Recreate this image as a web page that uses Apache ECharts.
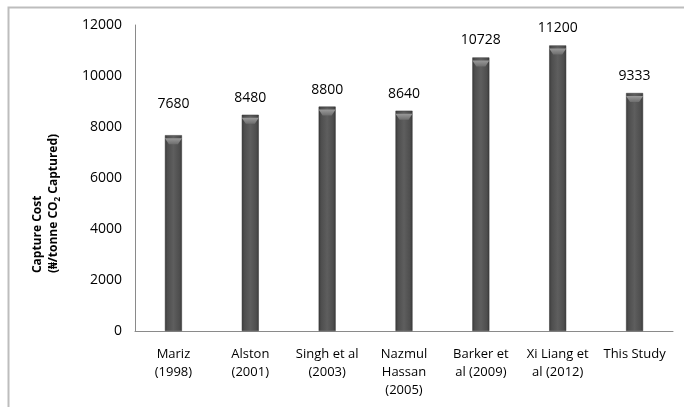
<!DOCTYPE html>
<html>
<head>
<meta charset="utf-8">
<script src="https://cdn.jsdelivr.net/npm/echarts@6/dist/echarts.min.js"></script>
<style>
html,body{margin:0;padding:0;background:#fff;}
#chart{width:684px;height:407px;}
</style>
</head>
<body>
<div id="chart"></div>
<script>
// Capture cost per study
const categories = ['Mariz\n(1998)', 'Alston\n(2001)', 'Singh et al\n(2003)', 'Nazmul\nHassan\n(2005)', 'Barker et\nal (2009)', 'Xi Liang et\nal (2012)', 'This Study'];
const costs = [7680, 8480, 8800, 8640, 10728, 11200, 9333];
const yTicks = [0, 2000, 4000, 6000, 8000, 10000, 12000];

const FONT = '"Open Sans", "Noto Sans", sans-serif';

const chart = echarts.init(document.getElementById('chart'), null, {renderer: 'canvas'});

const barFill = new echarts.graphic.LinearGradient(0, 0, 1, 0, [
  {offset: 0, color: '#3a3a3a'},
  {offset: 0.15, color: '#4e4e4e'},
  {offset: 0.5, color: '#5e5e5e'},
  {offset: 0.85, color: '#4e4e4e'},
  {offset: 1, color: '#3a3a3a'}
]);

const capFill = new echarts.graphic.LinearGradient(0, 0, 0, 1, [
  {offset: 0, color: '#9a9a9a'},
  {offset: 1, color: '#6e6e6e'}
]);

// the first label sits a little higher above its bar
const labelGap = [24, 10, 10, 10, 10, 10, 10];

chart.setOption({
  animation: false,
  graphic: [
    {
      type: 'rect',
      shape: {x: 8.5, y: 7.5, width: 700, height: 420},
      style: {fill: 'none', stroke: '#bdbdbd', lineWidth: 2},
      silent: true
    },
    {
      type: 'text',
      left: 32,
      top: 'middle',
      rotation: Math.PI / 2,
      style: {
        text: '{t|Capture Cost}\n{t|(₦/tonne CO}{s|2}{t| Captured)}',
        align: 'center',
        rich: {
          t: {fontFamily: FONT, fontSize: 12, fontWeight: 'bold', fill: '#000', lineHeight: 16},
          s: {fontFamily: FONT, fontSize: 8, fontWeight: 'bold', fill: '#000', lineHeight: 16, padding: [7, 0, 0, 0]}
        }
      }
    }
  ],
  grid: {left: 135, right: 11, top: 25, bottom: 76},
  xAxis: {
    type: 'category',
    data: categories,
    axisLine: {show: true, lineStyle: {color: '#8a8a8a', width: 1}},
    axisTick: {show: false},
    axisLabel: {
      interval: 0,
      color: '#000',
      fontFamily: FONT,
      fontSize: 13,
      lineHeight: 18,
      margin: 14
    }
  },
  yAxis: {
    type: 'value',
    min: 0,
    max: 12000,
    interval: 2000,
    splitLine: {show: false},
    axisLine: {show: true, lineStyle: {color: '#8a8a8a', width: 1}},
    axisTick: {show: false},
    axisLabel: {
      color: '#000',
      fontFamily: FONT,
      fontSize: 14,
      margin: 13,
      formatter: v => yTicks.includes(v) ? String(v) : ''
    }
  },
  series: [
    {
      type: 'bar',
      data: costs.map((v, i) => ({value: v, label: {distance: labelGap[i]}})),
      barWidth: 17,
      itemStyle: {color: barFill, borderColor: '#333', borderWidth: 0.5},
      label: {
        show: true,
        position: 'top',
        color: '#000',
        fontFamily: FONT,
        fontSize: 14
      }
    },
    {
      // bevelled cap on each bar
      type: 'pictorialBar',
      data: costs,
      symbol: 'path://M0,0 L17,0 L13,6 L4,6 Z',
      symbolSize: [17, 6],
      symbolPosition: 'end',
      symbolOffset: [0, '50%'],
      itemStyle: {color: capFill},
      silent: true,
      z: 3
    }
  ]
});
</script>
</body>
</html>
